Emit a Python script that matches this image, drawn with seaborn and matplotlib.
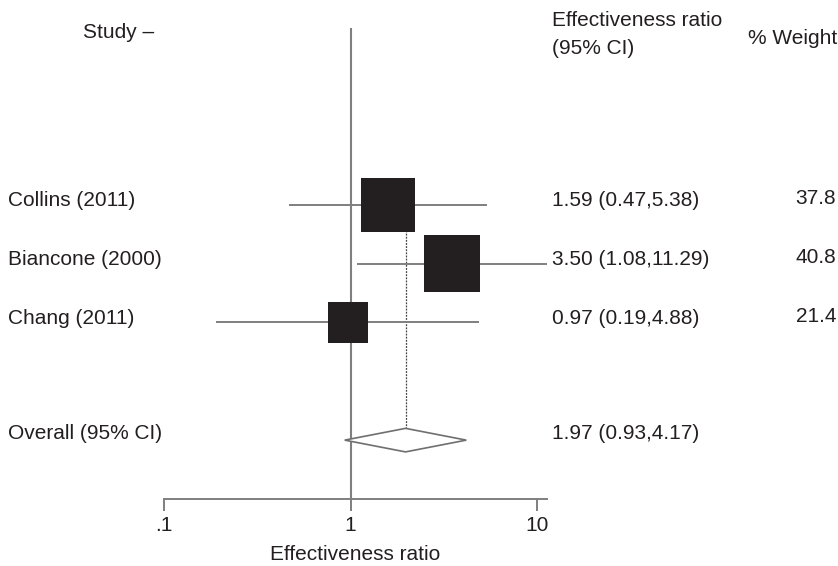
import numpy as np
import matplotlib
matplotlib.use("Agg")
import matplotlib.pyplot as plt
import matplotlib.transforms as mtransforms
from matplotlib.patches import Polygon
import seaborn as sns

# Dane z wykresu (forest plot)
studies = ["Collins (2011)", "Biancone (2000)", "Chang (2011)"]
ratio = [1.59, 3.50, 0.97]
ci_low = [0.47, 1.08, 0.19]
ci_high = [5.38, 11.29, 4.88]
weights = [37.8, 40.8, 21.4]
ratio_labels = ["1.59 (0.47,5.38)", "3.50 (1.08,11.29)", "0.97 (0.19,4.88)"]
weight_labels = ["37.8", "40.8", "21.4"]
overall = 1.97
overall_low = 0.93
overall_high = 4.17
overall_label = "1.97 (0.93,4.17)"
tick_values = [0.1, 1, 10]
tick_labels = [".1", "1", "10"]

rows = [1, 2, 3]
overall_row = 5

sns.set_style("white")
plt.rcParams["font.family"] = ["Liberation Sans", "DejaVu Sans"]
text_color = "#231f20"
line_color = "#7f7f7f"

fig = plt.figure(figsize=(8.38, 5.66), dpi=100)
W, H = 838, 566
ax = fig.add_axes([164 / W, 1 - 499 / H, (547 - 164) / W, (499 - 28) / H])
ax.set_xscale("log")
ax.set_xlim(0.1, 11.29)
ax.set_ylim(6, -2)

# linia odniesienia (1) i linia efektu łącznego
ax.axvline(1, color=line_color, lw=1.5, zorder=1)
ax.vlines(overall, rows[0], overall_row, colors="#444444", lw=0.9,
          linestyles=(0, (1.5, 1)), zorder=1)

# przedziały ufności
ax.hlines(rows, ci_low, ci_high, colors=line_color, lw=1.4, zorder=2)

# kwadraty o polu proporcjonalnym do wagi
sns.scatterplot(x=ratio, y=rows, size=weights,
                sizes=(40.2 * min(weights), 40.2 * max(weights)),
                marker="s", color="#231f20", edgecolor="none",
                legend=False, ax=ax, zorder=3)

# romb dla wyniku łącznego
half = 0.2
diamond = Polygon([(overall_low, overall_row), (overall, overall_row - half),
                   (overall_high, overall_row), (overall, overall_row + half)],
                  closed=True, facecolor="white", edgecolor="#6f6f6f", lw=1.2, zorder=3)
ax.add_patch(diamond)

# osie
for side in ["top", "left", "right"]:
    ax.spines[side].set_visible(False)
ax.spines["bottom"].set_color(line_color)
ax.spines["bottom"].set_linewidth(1.4)
ax.set_yticks([])
ax.set_xticks(tick_values)
ax.set_xticklabels(tick_labels, fontsize=15, color=text_color)
ax.minorticks_off()
ax.tick_params(axis="x", bottom=True, direction="out", length=8.5, width=1.4,
               color=line_color, pad=4)
ax.set_xlabel("Effectiveness ratio", fontsize=15, color=text_color, labelpad=7)

# teksty
trans = mtransforms.blended_transform_factory(fig.transFigure, ax.transData)
fs = 15
for r, name, rl, wl in zip(rows, studies, ratio_labels, weight_labels):
    fig.text(8 / W, r - 0.07, name, transform=trans, fontsize=fs, color=text_color, va="center")
    fig.text(552 / W, r - 0.07, rl, transform=trans, fontsize=fs, color=text_color, va="center")
    fig.text(836 / W, r - 0.1, wl, transform=trans, fontsize=fs, color=text_color,
             va="center", ha="right")
fig.text(8 / W, overall_row - 0.12, "Overall (95% CI)", transform=trans, fontsize=fs,
         color=text_color, va="center")
fig.text(552 / W, overall_row - 0.12, overall_label, transform=trans, fontsize=fs,
         color=text_color, va="center")

fig.text(83 / W, 1 - 32 / H, "Study \u2013", fontsize=fs, color=text_color, va="center")
fig.text(552 / W, 1 - 20 / H, "Effectiveness ratio", fontsize=fs, color=text_color, va="center")
fig.text(552 / W, 1 - 48 / H, "(95% CI)", fontsize=fs, color=text_color, va="center")
fig.text(837 / W, 1 - 38 / H, "% Weight", fontsize=fs, color=text_color, va="center",
         ha="right")

fig.savefig("out.png", dpi=100)
